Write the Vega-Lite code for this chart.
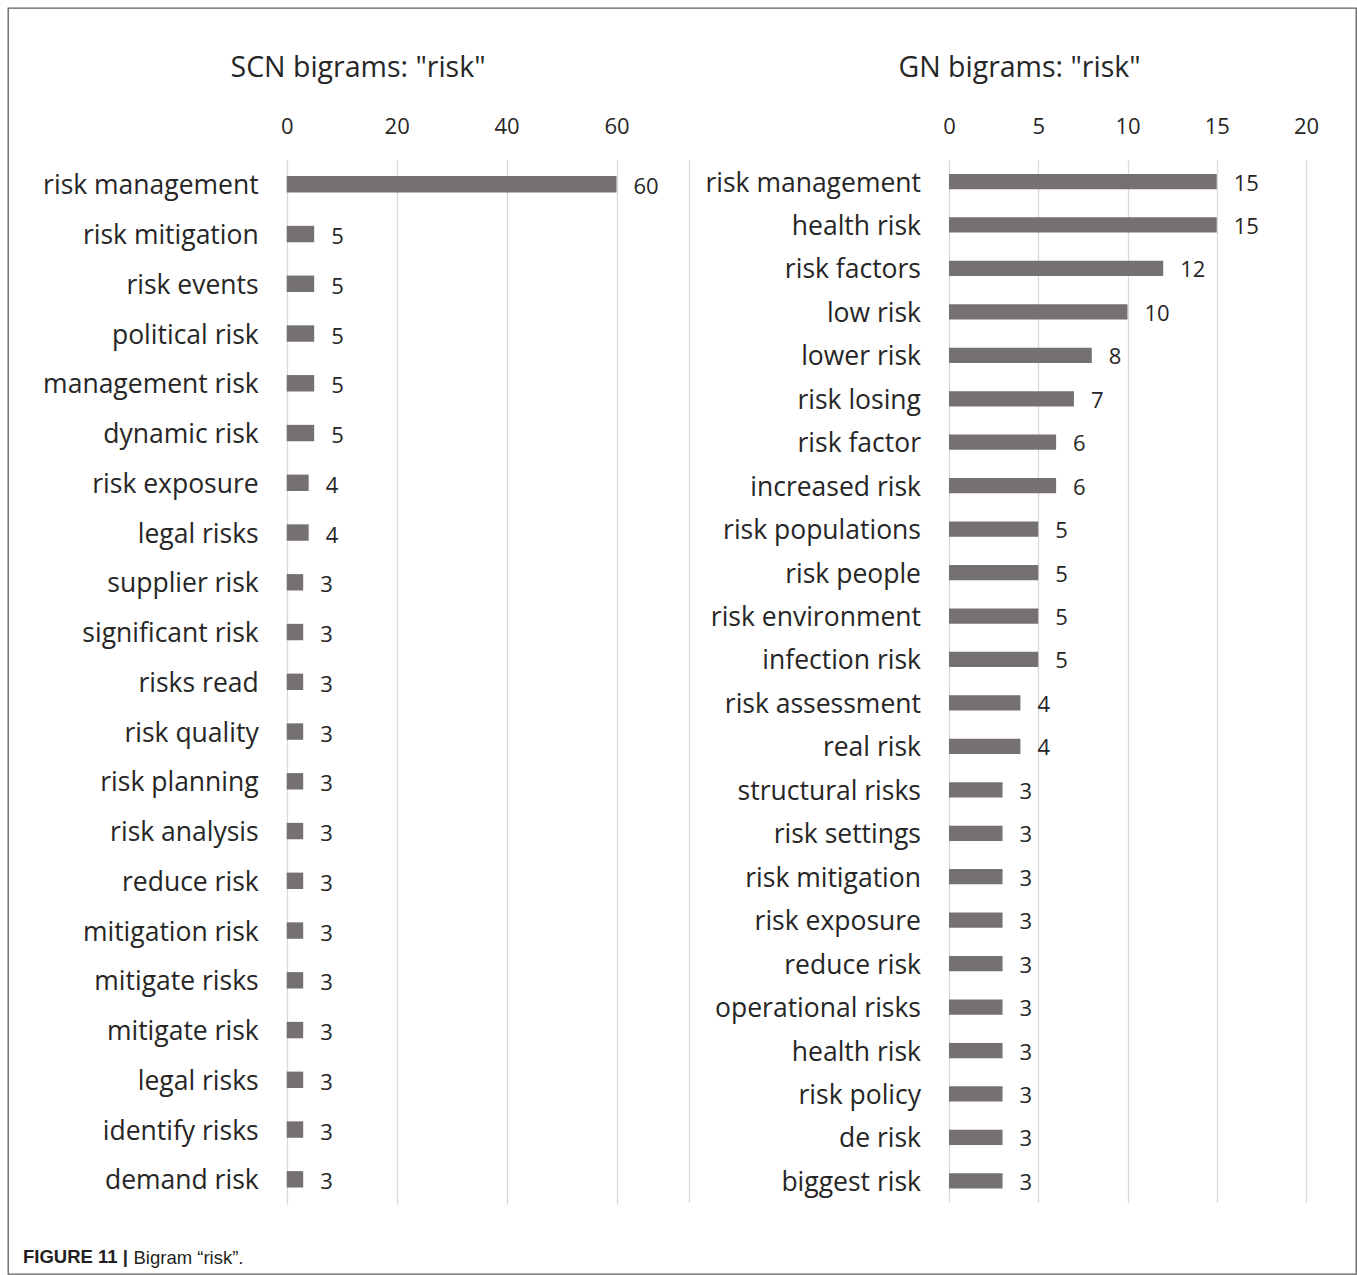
{
  "$schema": "https://vega.github.io/schema/vega-lite/v6.json",
  "description": "Bigram counts for the word risk in two news corpora, drawn as two horizontal bar panels inside one framed figure.",
  "width": 1348,
  "height": 1266,
  "autosize": {"type": "none"},
  "padding": {"left": 8, "top": 8, "right": 1, "bottom": 1},
  "background": "white",
  "datasets": {
    "scn": [
      {"rank": 1, "bigram": "risk management", "count": 60},
      {"rank": 2, "bigram": "risk mitigation", "count": 5},
      {"rank": 3, "bigram": "risk events", "count": 5},
      {"rank": 4, "bigram": "political risk", "count": 5},
      {"rank": 5, "bigram": "management risk", "count": 5},
      {"rank": 6, "bigram": "dynamic risk", "count": 5},
      {"rank": 7, "bigram": "risk exposure", "count": 4},
      {"rank": 8, "bigram": "legal risks", "count": 4},
      {"rank": 9, "bigram": "supplier risk", "count": 3},
      {"rank": 10, "bigram": "significant risk", "count": 3},
      {"rank": 11, "bigram": "risks read", "count": 3},
      {"rank": 12, "bigram": "risk quality", "count": 3},
      {"rank": 13, "bigram": "risk planning", "count": 3},
      {"rank": 14, "bigram": "risk analysis", "count": 3},
      {"rank": 15, "bigram": "reduce risk", "count": 3},
      {"rank": 16, "bigram": "mitigation risk", "count": 3},
      {"rank": 17, "bigram": "mitigate risks", "count": 3},
      {"rank": 18, "bigram": "mitigate risk", "count": 3},
      {"rank": 19, "bigram": "legal risks", "count": 3},
      {"rank": 20, "bigram": "identify risks", "count": 3},
      {"rank": 21, "bigram": "demand risk", "count": 3}
    ],
    "gn": [
      {"rank": 1, "bigram": "risk management", "count": 15},
      {"rank": 2, "bigram": "health risk", "count": 15},
      {"rank": 3, "bigram": "risk factors", "count": 12},
      {"rank": 4, "bigram": "low risk", "count": 10},
      {"rank": 5, "bigram": "lower risk", "count": 8},
      {"rank": 6, "bigram": "risk losing", "count": 7},
      {"rank": 7, "bigram": "risk factor", "count": 6},
      {"rank": 8, "bigram": "increased risk", "count": 6},
      {"rank": 9, "bigram": "risk populations", "count": 5},
      {"rank": 10, "bigram": "risk people", "count": 5},
      {"rank": 11, "bigram": "risk environment", "count": 5},
      {"rank": 12, "bigram": "infection risk", "count": 5},
      {"rank": 13, "bigram": "risk assessment", "count": 4},
      {"rank": 14, "bigram": "real risk", "count": 4},
      {"rank": 15, "bigram": "structural risks", "count": 3},
      {"rank": 16, "bigram": "risk settings", "count": 3},
      {"rank": 17, "bigram": "risk mitigation", "count": 3},
      {"rank": 18, "bigram": "risk exposure", "count": 3},
      {"rank": 19, "bigram": "reduce risk", "count": 3},
      {"rank": 20, "bigram": "operational risks", "count": 3},
      {"rank": 21, "bigram": "health risk", "count": 3},
      {"rank": 22, "bigram": "risk policy", "count": 3},
      {"rank": 23, "bigram": "de risk", "count": 3},
      {"rank": 24, "bigram": "biggest risk", "count": 3}
    ]
  },
  "title": {
    "text": "FIGURE 11 |",
    "orient": "bottom",
    "anchor": "start",
    "frame": "group",
    "offset": -11,
    "dx": 15,
    "baseline": "alphabetic",
    "font": "Liberation Sans",
    "fontSize": 18.5,
    "fontWeight": "bold",
    "color": "#231f20"
  },
  "layer": [
    {
      "data": {"name": "scn"},
      "encoding": {
        "y": {
          "field": "rank",
          "type": "ordinal",
          "axis": null,
          "scale": {"range": [151.4, 1196.2], "paddingInner": 0, "paddingOuter": 0}
        },
        "x": {
          "field": "count",
          "type": "quantitative",
          "scale": {"domain": [0, 60], "range": [278.7, 608.5], "nice": false, "zero": true},
          "axis": {
            "orient": "top",
            "offset": -151,
            "values": [0, 20, 40, 60],
            "grid": true,
            "gridColor": "#d9d9d9",
            "gridWidth": 1.3,
            "domain": false,
            "ticks": false,
            "labelFlush": false,
            "labelOverlap": false,
            "labelFont": "Open Sans",
            "labelFontSize": 22,
            "labelColor": "#262626",
            "labelPadding": 26,
            "labelBaseline": "alphabetic",
            "title": "SCN bigrams: \"risk\"",
            "titleX": 349.5,
            "titleY": -83,
            "titleAlign": "center",
            "titleBaseline": "alphabetic",
            "titleFont": "Open Sans",
            "titleFontSize": 28.5,
            "titleFontWeight": "normal",
            "titleColor": "#262626"
          }
        }
      },
      "layer": [
        {"mark": {"type": "bar", "color": "#767171", "height": {"band": 0.33}}},
        {
          "mark": {"type": "text", "align": "left", "baseline": "middle", "dx": 17, "dy": 3, "font": "Open Sans", "fontSize": 22, "color": "#262626"},
          "encoding": {"text": {"field": "count", "type": "quantitative"}}
        },
        {
          "mark": {"type": "text", "align": "right", "baseline": "middle", "dx": -28, "dy": 2, "font": "Open Sans", "fontSize": 26.5, "color": "#262626"},
          "encoding": {
            "x": {"datum": 0, "type": "quantitative"},
            "text": {"field": "bigram", "type": "nominal"}
          }
        }
      ]
    },
    {
      "data": {"name": "gn"},
      "encoding": {
        "y": {
          "field": "rank",
          "type": "ordinal",
          "scale": {"range": [151.8, 1194.6], "paddingInner": 0, "paddingOuter": 0},
          "axis": {
            "orient": "left",
            "offset": -681,
            "domain": true,
            "domainColor": "#d9d9d9",
            "domainWidth": 1.3,
            "labels": false,
            "ticks": false,
            "grid": false,
            "title": "Bigram “risk”.",
            "titleAngle": 0,
            "titleX": -556,
            "titleY": 1255,
            "titleAlign": "left",
            "titleBaseline": "alphabetic",
            "titleFont": "Liberation Sans",
            "titleFontSize": 18.5,
            "titleFontWeight": "normal",
            "titleColor": "#231f20"
          }
        },
        "x": {
          "field": "count",
          "type": "quantitative",
          "scale": {"domain": [0, 20], "range": [941, 1298], "nice": false, "zero": true},
          "axis": {
            "orient": "top",
            "offset": -151,
            "values": [0, 5, 10, 15, 20],
            "grid": true,
            "gridColor": "#d9d9d9",
            "gridWidth": 1.3,
            "domain": false,
            "ticks": false,
            "labelFlush": false,
            "labelOverlap": false,
            "labelFont": "Open Sans",
            "labelFontSize": 22,
            "labelColor": "#262626",
            "labelPadding": 26,
            "labelBaseline": "alphabetic",
            "title": "GN bigrams: \"risk\"",
            "titleX": 1011,
            "titleY": -83,
            "titleAlign": "center",
            "titleBaseline": "alphabetic",
            "titleFont": "Open Sans",
            "titleFontSize": 28.5,
            "titleFontWeight": "normal",
            "titleColor": "#262626"
          }
        }
      },
      "layer": [
        {"mark": {"type": "bar", "color": "#767171", "height": {"band": 0.35}}},
        {
          "mark": {"type": "text", "align": "left", "baseline": "middle", "dx": 17, "dy": 2, "font": "Open Sans", "fontSize": 22, "color": "#262626"},
          "encoding": {"text": {"field": "count", "type": "quantitative"}}
        },
        {
          "mark": {"type": "text", "align": "right", "baseline": "middle", "dx": -28, "dy": 2, "font": "Open Sans", "fontSize": 26.5, "color": "#262626"},
          "encoding": {
            "x": {"datum": 0, "type": "quantitative"},
            "text": {"field": "bigram", "type": "nominal"}
          }
        }
      ]
    }
  ],
  "resolve": {
    "scale": {"x": "independent", "y": "independent"},
    "axis": {"x": "independent", "y": "independent"}
  },
  "config": {
    "view": {"stroke": "#5f5f5f", "strokeWidth": 1.3},
    "font": "Open Sans"
  }
}
